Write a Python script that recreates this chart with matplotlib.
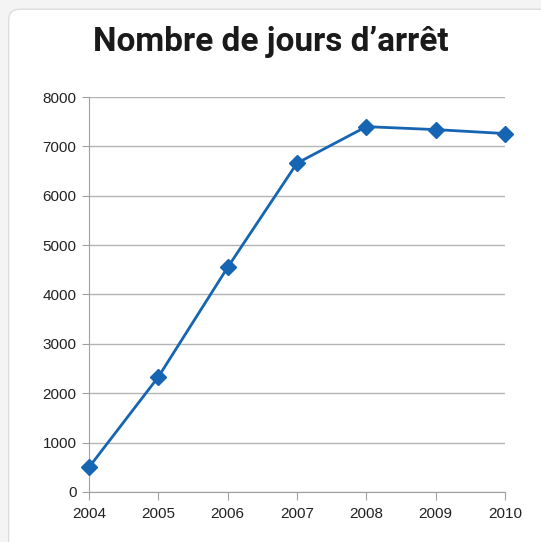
import matplotlib.pyplot as plt
from matplotlib.patches import FancyBboxPatch

# données
years = [2004, 2005, 2006, 2007, 2008, 2009, 2010]
jours = [500, 2330, 4550, 6660, 7400, 7340, 7260]
yticks = [0, 1000, 2000, 3000, 4000, 5000, 6000, 7000, 8000]
title = 'Nombre de jours d\u2019arrêt'

plt.rcParams['font.family'] = ['Liberation Sans', 'DejaVu Sans']

fig = plt.figure(figsize=(5.41, 5.42), dpi=100)
fig.patch.set_facecolor('#f4f4f4')

# cadre arrondi
box = FancyBboxPatch((0.016, -0.05), 1.0, 1.033, boxstyle='round,pad=0,rounding_size=0.02',
                     transform=fig.transFigure, facecolor='white', edgecolor='#dddddd',
                     linewidth=1.0, zorder=-10)
fig.patches.append(box)

ax = fig.add_axes([0.1645, 0.0923, 0.769, 0.7287])
ax.set_zorder(5)
ax.set_facecolor('none')
ax.plot(years, jours, color='#1565b3', linewidth=2, marker='D', markersize=8,
        clip_on=False, zorder=3)

ax.set_xlim(2004, 2010)
ax.set_ylim(0, 8000)
ax.set_xticks(years)
ax.set_yticks(yticks)
ax.grid(axis='y', color='#b4b4b4', linewidth=1)
ax.set_axisbelow(True)
for s in ['top', 'right']:
    ax.spines[s].set_visible(False)
for s in ['left', 'bottom']:
    ax.spines[s].set_color('#a0a0a0')
ax.tick_params(axis='x', direction='out', length=6, color='#a0a0a0', labelsize=11,
               labelcolor='#222222', pad=5)
ax.tick_params(axis='y', direction='out', length=5, color='#a0a0a0', labelsize=11,
               labelcolor='#222222', pad=4)

fig.text(0.5, 0.922, title, ha='center', va='center', fontsize=24, fontweight='bold',
         family=['Roboto', 'DejaVu Sans'], color='#1a1a1a', zorder=6)

fig.savefig('out.png', dpi=100)
